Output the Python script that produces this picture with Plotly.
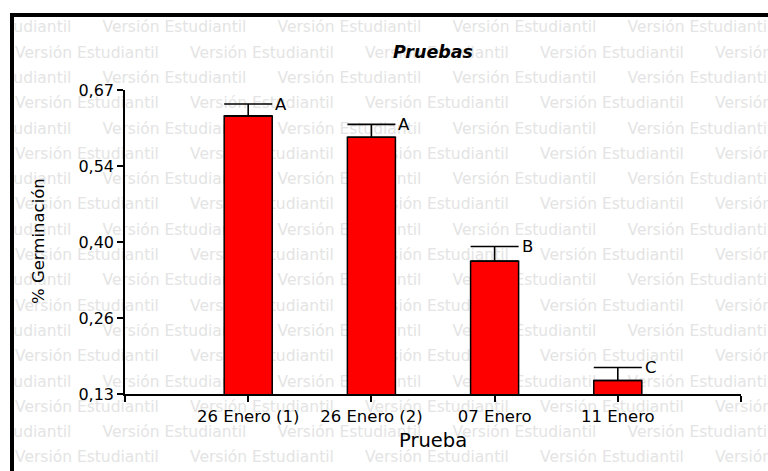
import plotly.graph_objects as go

# Germination results per test date
pruebas = ["26 Enero (1)", "26 Enero (2)", "07 Enero", "11 Enero"]
germinacion = [0.624, 0.586, 0.366, 0.154]
error_sup = [0.021, 0.023, 0.026, 0.023]
letras = ["A", "A", "B", "C"]

y_ticks = [0.13, 0.265, 0.40, 0.535, 0.67]
y_ticktext = ["0,13", "0,26", "0,40", "0,54", "0,67"]

W, H = 768, 471
FONT = "DejaVu Sans"

fig = go.Figure()

# Background watermark rows, drawn on a hidden pixel-scaled subplot so the
# text is clipped to the framed area.
wm_x, wm_y = [], []
row_step = 25.3
period = 175.0
for k in range(18):
    y = 28.5 + k * row_step
    start = -72.5 if k % 2 == 0 else 15.0
    for n in range(6):
        wm_x.append(start + n * period)
        wm_y.append(y)

fig.add_trace(go.Scatter(
    x=wm_x, y=wm_y, mode="text",
    text=["Versión Estudiantil"] * len(wm_x),
    textposition="middle right",
    textfont=dict(family=FONT, size=15.5, color="#e4e4e4"),
    hoverinfo="skip", showlegend=False, cliponaxis=True,
    xaxis="x", yaxis="y",
))

# Bars with upper error bars
xpos = list(range(len(pruebas)))
fig.add_trace(go.Bar(
    x=xpos, y=germinacion, width=0.39,
    marker=dict(color="#ff0000", line=dict(color="black", width=1.5)),
    error_y=dict(type="data", symmetric=False, array=error_sup,
                 arrayminus=[0] * len(error_sup),
                 color="black", thickness=1.6, width=24),
    xaxis="x2", yaxis="y2", showlegend=False,
))

# Significance letters beside each error cap
for i, (v, e, l) in enumerate(zip(germinacion, error_sup, letras)):
    fig.add_annotation(x=i, y=v + e, xref="x2", yref="y2", text=l,
                       showarrow=False, xanchor="left", yanchor="middle",
                       xshift=25, font=dict(family=FONT, size=16.5, color="black"))

x_left, x_right = 125, 741
y_top, y_bot = 90, 394

fig.update_layout(
    width=W, height=H, showlegend=False,
    margin=dict(l=0, r=0, t=0, b=0, pad=0, autoexpand=False),
    paper_bgcolor="white", plot_bgcolor="rgba(0,0,0,0)",
    xaxis=dict(domain=[14 / W, 1], range=[14, W], visible=False, fixedrange=True),
    yaxis=dict(domain=[0, 1 - 17 / H], range=[H, 17], visible=False, fixedrange=True),
    xaxis2=dict(
        domain=[x_left / W, x_right / W], range=[-1, len(pruebas)],
        anchor="y2", showgrid=False, zeroline=False,
        showline=True, linecolor="black", linewidth=1.5,
        ticks="outside", ticklen=6, tickwidth=1.5, tickcolor="black",
        tickvals=[-1] + xpos + [len(pruebas)],
        ticktext=[""] + pruebas + [""],
        tickfont=dict(family=FONT, size=16.5, color="black"),
    ),
    yaxis2=dict(
        domain=[1 - y_bot / H, 1 - y_top / H], range=[0.13, 0.67],
        anchor="x2", showgrid=False, zeroline=False,
        showline=True, linecolor="black", linewidth=1.5,
        ticks="outside", ticklen=6, tickwidth=1.5, tickcolor="black",
        tickvals=y_ticks, ticktext=y_ticktext,
        tickfont=dict(family=FONT, size=16, color="black"),
    ),
    shapes=[
        # outer frame, top and left edges visible
        dict(type="rect", xref="paper", yref="paper",
             x0=12 / W, y0=-0.2, x1=1.2, y1=1 - 15 / H,
             line=dict(color="black", width=4), fillcolor="rgba(0,0,0,0)"),
    ],
    annotations=list(fig.layout.annotations) + [
        dict(text="<b><i>Pruebas</i></b>", x=(x_left + x_right) / 2 / W, y=1 - 52 / H,
             xref="paper", yref="paper", showarrow=False,
             xanchor="center", yanchor="middle",
             font=dict(family=FONT, size=17.5, color="black")),
        dict(text="Prueba", x=(x_left + x_right) / 2 / W, y=1 - 440 / H,
             xref="paper", yref="paper", showarrow=False,
             xanchor="center", yanchor="middle",
             font=dict(family=FONT, size=19.5, color="black")),
        dict(text="% Germinación", x=38 / W, y=1 - 241 / H,
             xref="paper", yref="paper", showarrow=False, textangle=-90,
             xanchor="center", yanchor="middle",
             font=dict(family=FONT, size=16.5, color="black")),
    ],
)

fig.write_html("out.html")
